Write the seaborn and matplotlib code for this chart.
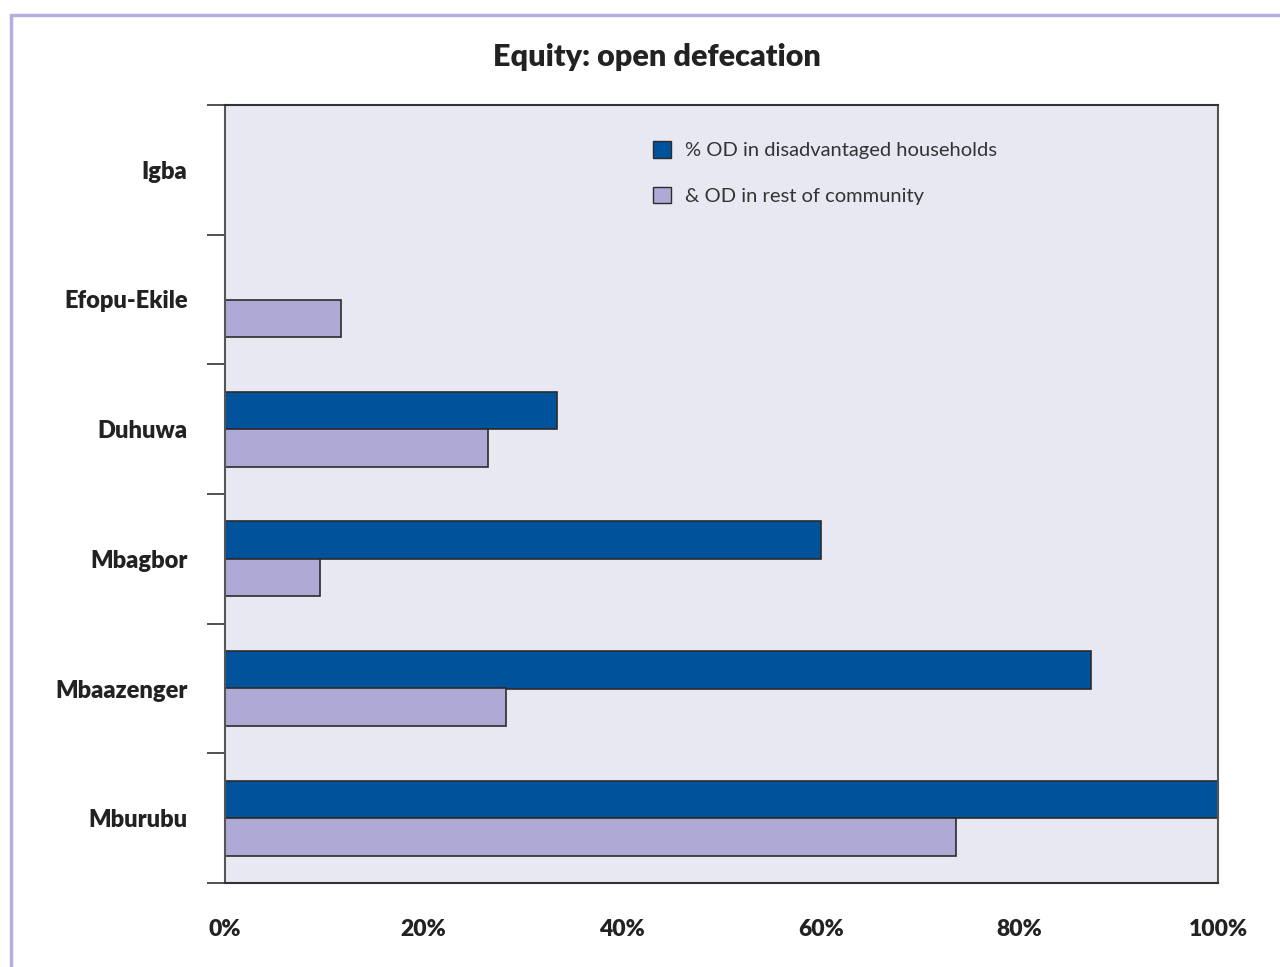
import matplotlib
matplotlib.use('Agg')
import matplotlib.pyplot as plt
from matplotlib.patches import Rectangle, Patch
import seaborn as sns
import pandas as pd
import numpy as np

villages = ['Igba', 'Efopu-Ekile', 'Duhuwa', 'Mbagbor', 'Mbaazenger', 'Mburubu']
od_disadvantaged = [0, 0, 33.4, 60.0, 87.2, 100.0]
od_rest = [0, 11.7, 26.5, 9.6, 28.3, 73.6]
series_names = ['% OD in disadvantaged households', '& OD in rest of community']
x_ticks = [0, 20, 40, 60, 80, 100]
x_labels = ['0%', '20%', '40%', '60%', '80%', '100%']

dark_blue = '#00539b'
light_purple = '#aeaad5'
bg = '#e8e8f3'
edge = '#2b2b2b'

df = pd.DataFrame({
    'village': villages * 2,
    'series': [series_names[0]] * len(villages) + [series_names[1]] * len(villages),
    'value': od_disadvantaged + od_rest,
})

sns.set_style('white')
plt.rcParams['font.family'] = ['Lato', 'DejaVu Sans']

fig = plt.figure(figsize=(12.8, 9.67), dpi=100)
ax = fig.add_axes([225 / 1280, 1 - 883 / 967, (1218 - 225) / 1280, (883 - 105) / 967])
ax.set_facecolor(bg)

sns.barplot(data=df, y='village', x='value', hue='series', orient='h',
            order=villages, hue_order=series_names,
            palette=[dark_blue, light_purple], saturation=1, width=0.58, gap=0,
            edgecolor=edge, linewidth=1.2, ax=ax, legend=False)

ax.set_xlim(0, 100)
ax.set_ylim(len(villages) - 0.5, -0.5)
ax.set_xlabel('')
ax.set_ylabel('')

ax.set_xticks(x_ticks)
ax.set_xticklabels(x_labels, fontsize=16.5, fontweight='heavy', color='#222222')
ax.tick_params(axis='x', length=0, pad=26)

bounds = np.arange(-0.5, len(villages), 1.0)
ax.set_yticks(bounds)
ax.set_yticklabels([])
ax.tick_params(axis='y', which='major', left=True, length=13, width=1.2,
               color='#333333', direction='out')
ax.set_yticks(np.arange(len(villages)), minor=True)
ax.set_yticklabels(villages, minor=True, fontsize=17, fontweight='heavy', color='#222222')
ax.tick_params(axis='y', which='minor', left=True, length=0, pad=27)

for s in ax.spines.values():
    s.set_visible(True)
    s.set_color('#555555')
    s.set_linewidth(1.5)
ax.spines['top'].set_color('#333333')
ax.spines['bottom'].set_color('#333333')

handles = [Patch(facecolor=dark_blue, edgecolor=edge, linewidth=1),
           Patch(facecolor=light_purple, edgecolor=edge, linewidth=1)]
ax.legend(handles, series_names, loc='upper left', bbox_to_anchor=(0.413, 0.977),
          frameon=False, fontsize=14.5, handlelength=0.9, handleheight=0.9,
          handletextpad=0.7, labelspacing=1.35, labelcolor='#333333')

fig.text(657 / 1280, 1 - 57 / 967, 'Equity: open defecation', ha='center', va='center',
         fontsize=22, fontweight='heavy', color='#222222')

fig.patches.append(Rectangle((11 / 1280, -0.1), 1.2, 1 - 15 / 967 + 0.1,
                             transform=fig.transFigure, fill=False,
                             edgecolor='#b3b1dc', linewidth=2.5))

fig.savefig('out.png', dpi=100)
